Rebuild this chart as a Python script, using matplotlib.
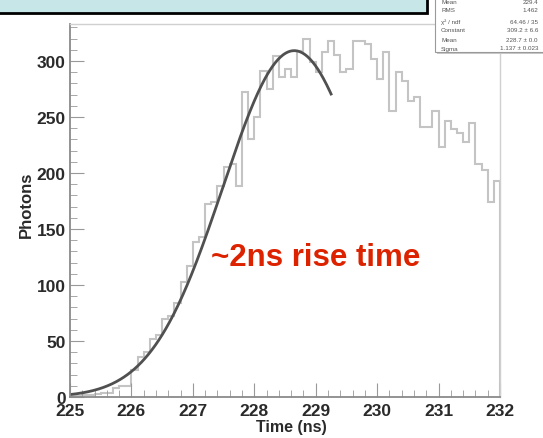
import numpy as np
import matplotlib
matplotlib.use('Agg')
from matplotlib import pyplot as plt
from matplotlib.patches import Rectangle

plt.rcParams['font.family'] = ['Liberation Sans', 'DejaVu Sans']

# histogram: 70 bins of 0.1 ns between 225 and 232 ns
t_lo, t_hi, n_bins = 225.0, 232.0, 70
photons = [1, 1, 2, 2, 3, 4, 4, 8, 10, 10,
           24, 36, 40, 52, 55, 70, 72, 84, 103, 117,
           138, 143, 172, 174, 188, 205, 208, 188, 272, 230,
           250, 291, 275, 304, 286, 293, 286, 309, 320, 299,
           290, 308, 318, 305, 290, 293, 318, 318, 315, 302,
           284, 308, 255, 290, 282, 264, 268, 241, 241, 255,
           223, 246, 239, 236, 228, 245, 208, 203, 174, 193]

# gaussian fit result (from the stats box)
fit_const, fit_mean, fit_sigma = 309.2, 228.65, 1.16
fit_range = (225.0, 229.25)

stat_names = ['Mean', 'RMS', '\u03c7\u00b2 / ndf', 'Constant', 'Mean', 'Sigma']
stat_values = ['229.4', '1.462', '64.46 / 35', '309.2 \u00b1 6.6',
               '228.7 \u00b1 0.0', '1.137 \u00b1 0.023']

x_ticks = [225, 226, 227, 228, 229, 230, 231, 232]
y_ticks = [0, 50, 100, 150, 200, 250, 300]

fig = plt.figure(figsize=(5.43, 4.39), dpi=100)
ax = fig.add_axes([70/543, 41/439, 430/543, 373/439])

edges = np.linspace(t_lo, t_hi, n_bins + 1)
ax.stairs(photons, edges, color='#c4c4c4', lw=1.5)

tf = np.linspace(fit_range[0], fit_range[1], 300)
ax.plot(tf, fit_const*np.exp(-0.5*((tf - fit_mean)/fit_sigma)**2),
        color='#505050', lw=2.0)

ax.set_xlim(t_lo, t_hi)
ax.set_ylim(0, 333)
ax.set_xticks(x_ticks)
ax.set_yticks(y_ticks)
ax.set_xticks(np.arange(225, 232.01, 0.2), minor=True)
ax.set_yticks(np.arange(0, 331, 10), minor=True)
ax.tick_params(which='both', direction='in', colors='#999999',
               labelcolor='#2a2a2a', labelsize=12.5)
ax.tick_params(which='major', length=10)
ax.tick_params(which='minor', length=5)
ax.tick_params(axis='x', pad=4)
ax.tick_params(axis='y', pad=3)
for lab in ax.get_xticklabels() + ax.get_yticklabels():
    lab.set_fontweight('bold')

for s in ['left', 'bottom']:
    ax.spines[s].set_color('#8a8a8a')
    ax.spines[s].set_linewidth(1.3)
for s in ['top', 'right']:
    ax.spines[s].set_color('#d0d0d0')
    ax.spines[s].set_linewidth(1.0)

# axis titles placed in figure pixels
fig.text(291/543, 1 - 428/439, 'Time (ns)', fontsize=11.5, fontweight='bold',
         color='#2a2a2a', ha='center', va='center')
fig.text(26/543, 1 - 205/439, 'Photons', fontsize=12, fontweight='bold',
         color='#2a2a2a', ha='center', va='center', rotation=90)

fig.text(211/543, 1 - 258/439, '~2ns rise time', fontsize=22.5,
         fontweight='bold', color='#dd2200', va='center')

# cyan title box (cut off at top)
fig.patches.append(Rectangle((-5/543, 1 - 14/439), 432/543, 30/439,
                             transform=fig.transFigure, facecolor='#c6e6e8',
                             edgecolor='black', lw=2.0))

# stats box in the top right corner
fig.patches.append(Rectangle((437/543, 1 - 55/439), 110/543, 70/439,
                             transform=fig.transFigure, facecolor='#c8c8c8',
                             edgecolor='none'))
fig.patches.append(Rectangle((435/543, 1 - 53/439), 110/543, 70/439,
                             transform=fig.transFigure, facecolor='white',
                             edgecolor='#9a9a9a', lw=0.8))
rows_y = [3, 11, 22, 31, 40, 49]
for name, val, ry in zip(stat_names, stat_values, rows_y):
    fig.text(441/543, 1 - ry/439, name, fontsize=4.5, color='#555555',
             va='center')
    fig.text(538/543, 1 - ry/439, val, fontsize=4.5, color='#555555',
             va='center', ha='right')

fig.savefig('out.png', dpi=100)
